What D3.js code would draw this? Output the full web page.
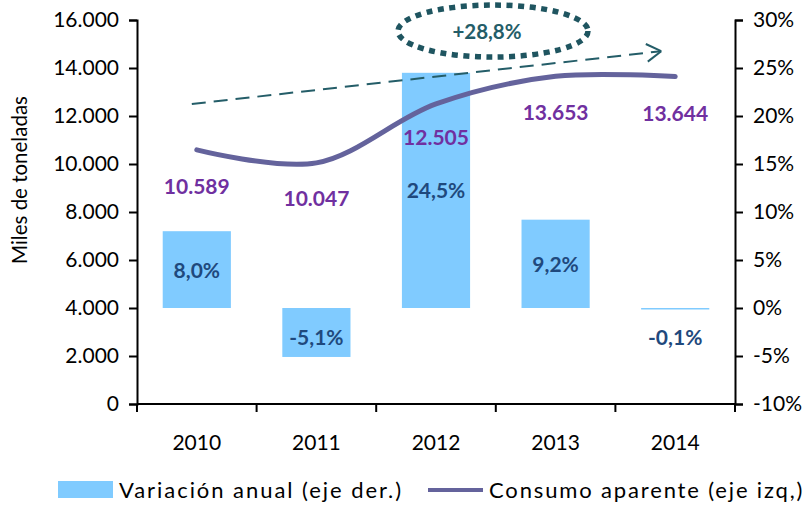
<!DOCTYPE html>
<html>
<head>
<meta charset="utf-8">
<script src="https://cdn.jsdelivr.net/npm/d3@7"></script>
<style>
  body { margin: 0; background: #fff; }
  svg { font-family: Lato, "Open Sans", sans-serif; }
</style>
</head>
<body>
<div id="chart"></div>
<script>
var years = ['2010', '2011', '2012', '2013', '2014'];
var consumo = [10589, 10047, 12505, 13653, 13644];      // miles de toneladas (eje izq)
var variacion = [8.0, -5.1, 24.5, 9.2, -0.1];            // % (eje der)
var leftTicks = [0, 2000, 4000, 6000, 8000, 10000, 12000, 14000, 16000];
var rightTicks = [-10, -5, 0, 5, 10, 15, 20, 25, 30];

var width = 811, height = 506;
var margin = {top: 20, right: 76, bottom: 102, left: 137};

var svg = d3.select('#chart').append('svg')
    .attr('width', width)
    .attr('height', height);

var x = d3.scaleBand()
    .domain(years)
    .range([margin.left, width - margin.right])
    .paddingInner(0.43)
    .paddingOuter(0.215);

var xb = d3.scaleBand().domain(years).range([margin.left, width - margin.right]);

var yL = d3.scaleLinear().domain([0, 16000]).range([height - margin.bottom, margin.top]);
var yR = d3.scaleLinear().domain([-10, 30]).range([height - margin.bottom, margin.top]);

var fmtThousands = d3.formatLocale({decimal: ',', thousands: '.', grouping: [3], currency: ['', '']}).format(',d');
var fmtPct = function(v) { return v.toFixed(1).replace('.', ','); };

// bars
svg.selectAll('.bar')
    .data(variacion)
  .enter().append('rect')
    .attr('class', 'bar')
    .attr('x', function(d, i) { return x(years[i]); })
    .attr('width', x.bandwidth())
    .attr('y', function(d) { return yR(Math.max(0, d)); })
    .attr('height', function(d) { return Math.max(1.5, Math.abs(yR(d) - yR(0))); })
    .style('fill', '#80cbff');

// axes
var leftAxis = d3.axisLeft(yL).tickValues(leftTicks).tickSize(8).tickFormat(fmtThousands);
var rightAxis = d3.axisRight(yR).tickValues(rightTicks).tickSize(8).tickFormat(function(d) { return d + '%'; });
var bottomAxis = d3.axisBottom(xb).tickSize(0).tickPadding(31);

var gL = svg.append('g').attr('transform', 'translate(' + margin.left + ',0)').call(leftAxis);
var gR = svg.append('g').attr('transform', 'translate(' + (width - margin.right) + ',0)').call(rightAxis);
var gB = svg.append('g').attr('transform', 'translate(0,' + yL(0) + ')').call(bottomAxis);

// category boundary ticks
gB.selectAll('.bound')
    .data(years.concat(['end']))
  .enter().append('line')
    .attr('x1', function(d, i) { return margin.left + i * xb.bandwidth(); })
    .attr('x2', function(d, i) { return margin.left + i * xb.bandwidth(); })
    .attr('y1', 0).attr('y2', 8)
    .attr('stroke', '#000').attr('stroke-width', 2);

[gL, gR, gB].forEach(function(g) {
  g.select('.domain').attr('stroke', '#000').attr('stroke-width', 2);
  g.selectAll('.tick line').attr('stroke', '#000').attr('stroke-width', 2);
  g.selectAll('text').style('font-family', 'Lato, sans-serif').style('font-size', '21px').attr('fill', '#000');
});
gL.selectAll('.tick text').attr('x', -18);
gR.selectAll('.tick text').attr('x', 18);
gB.select('.domain').attr('d', 'M' + margin.left + ',0H' + (width - margin.right));

// y title
svg.append('text')
    .attr('transform', 'translate(27,' + 180 + ') rotate(-90)')
    .attr('text-anchor', 'middle')
    .style('font-size', '20.5px')
    .text('Miles de toneladas');

// trend arrow annotation
var arrow = [[xb(years[0]) + xb.bandwidth() / 2 - 5, yL(12500)],
             [xb(years[4]) + xb.bandwidth() / 2 - 14, yL(14700)]];
svg.append('line')
    .attr('x1', arrow[0][0]).attr('y1', arrow[0][1])
    .attr('x2', arrow[1][0]).attr('y2', arrow[1][1])
    .attr('stroke', '#245d68').attr('stroke-width', 2)
    .attr('stroke-dasharray', '14,8');
var ang = Math.atan2(arrow[1][1] - arrow[0][1], arrow[1][0] - arrow[0][0]);
[-1, 1].forEach(function(s) {
  svg.append('line')
      .attr('x1', arrow[1][0]).attr('y1', arrow[1][1])
      .attr('x2', arrow[1][0] - 17 * Math.cos(ang + s * 0.55))
      .attr('y2', arrow[1][1] - 17 * Math.sin(ang + s * 0.55))
      .attr('stroke', '#245d68').attr('stroke-width', 2);
});

// line
var line = d3.line()
    .x(function(d, i) { return xb(years[i]) + xb.bandwidth() / 2; })
    .y(function(d) { return yL(d); })
    .curve(d3.curveCatmullRom.alpha(0.5));

svg.append('path')
    .datum(consumo)
    .attr('d', line)
    .attr('fill', 'none')
    .attr('stroke', '#64639c')
    .attr('stroke-width', 5)
    .attr('stroke-linecap', 'round');

// ellipse annotation
var ecx = xb(years[2]) + xb.bandwidth() / 2 + 57, ecy = yL(15540);
svg.append('ellipse')
    .attr('cx', ecx).attr('cy', ecy)
    .attr('rx', 95).attr('ry', 26)
    .attr('fill', 'none')
    .attr('stroke', '#1f5560').attr('stroke-width', 5.5)
    .attr('stroke-dasharray', '6,5.5');
svg.append('text')
    .attr('x', ecx - 6).attr('y', ecy + 8)
    .attr('text-anchor', 'middle')
    .style('font-size', '20.5px').style('font-weight', 'bold')
    .attr('fill', '#245d68')
    .text('+28,8%');

// consumo labels
var consumoLabelDy = [37, 36, 34, 37, 37];
svg.selectAll('.clabel')
    .data(consumo)
  .enter().append('text')
    .attr('x', function(d, i) { return xb(years[i]) + xb.bandwidth() / 2; })
    .attr('y', function(d, i) { return yL(d) + consumoLabelDy[i] + 7; })
    .attr('text-anchor', 'middle')
    .style('font-size', '21px').style('font-weight', 'bold')
    .attr('fill', '#7030a0')
    .text(function(d) { return fmtThousands(d); });

// variacion labels
svg.selectAll('.vlabel')
    .data(variacion)
  .enter().append('text')
    .attr('x', function(d, i) { return xb(years[i]) + xb.bandwidth() / 2; })
    .attr('y', function(d) {
      if (d < 0) return yR(0) + 37;
      return (yR(d) + yR(0)) / 2 + 8;
    })
    .attr('text-anchor', 'middle')
    .style('font-size', '21px').style('font-weight', 'bold')
    .attr('fill', '#1f497d')
    .text(function(d) { return fmtPct(d) + '%'; });

// legend
var leg = svg.append('g').attr('transform', 'translate(0,490)');
leg.append('rect').attr('x', 58).attr('y', -9).attr('width', 55).attr('height', 17).attr('fill', '#80cbff');
leg.append('text').attr('x', 119).attr('y', 8).style('font-size', '22px').style('letter-spacing', '1.95px')
    .text('Variación anual (eje der.)');
leg.append('line').attr('x1', 428).attr('x2', 483).attr('y1', 0).attr('y2', 0)
    .attr('stroke', '#64639c').attr('stroke-width', 4);
leg.append('text').attr('x', 489).attr('y', 8).style('font-size', '22px').style('letter-spacing', '1.85px')
    .text('Consumo aparente (eje izq,)');
</script>
</body>
</html>
